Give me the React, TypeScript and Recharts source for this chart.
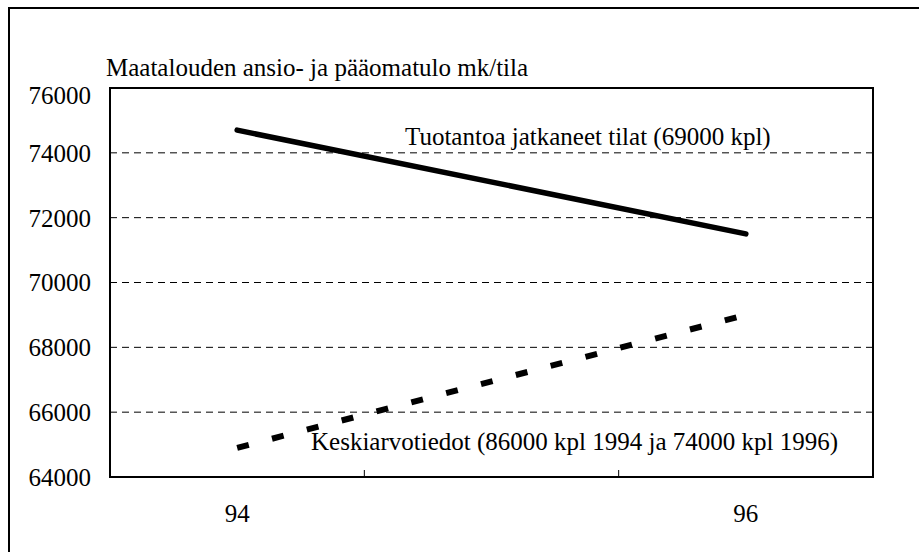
import React from "react";
import { CartesianGrid, Line, LineChart, ReferenceArea, XAxis, YAxis } from "recharts";

const years = [94, 96];
const continuedFarms = [74700, 71500];
const averageFarms = [64900, 69000];
const yTicks = [64000, 66000, 68000, 70000, 72000, 74000, 76000];
const xLabelTicks = [94, 96];
const categoryBounds = [94.5, 95.5];
const xTicks = [...xLabelTicks, ...categoryBounds].sort((a, b) => a - b);

const data = years.map((year, i) => ({
  year,
  continued: continuedFarms[i],
  average: averageFarms[i],
}));

const FONT = "Liberation Serif, Tinos, Times New Roman, DejaVu Serif, serif";
const textStyle = { fontFamily: FONT, fontSize: 25 };
const LABEL_GAP = 27;

// top label sits a bit lower than its grid line, like in the original
function YTick(props: any) {
  const { x, y, payload } = props;
  const shift = payload.value === 76000 ? 7 : 0;
  return (
    <text x={x} y={y + shift} dy="0.355em" textAnchor="end" fill="#000" style={textStyle}>
      {payload.value}
    </text>
  );
}

// year labels under the category centres, small inside marks at category bounds
function XTick(props: any) {
  const { x, y, payload } = props;
  if (categoryBounds.includes(payload.value)) {
    const axisY = y - LABEL_GAP;
    return <line x1={x} x2={x} y1={axisY} y2={axisY - 7} stroke="#000" strokeWidth={1} />;
  }
  return (
    <text x={x} y={y} dy="0.71em" textAnchor="middle" fill="#000" style={textStyle}>
      {payload.value}
    </text>
  );
}

export default function App() {
  return (
    <div style={{ position: "fixed", left: 0, top: 0, width: 919, height: 552, overflow: "hidden", background: "#fff" }}>
      <div
        style={{
          position: "absolute",
          left: 8,
          top: 7,
          width: 1000,
          height: 1000,
          border: "2px solid #000",
          boxSizing: "border-box",
        }}
      />
      <div style={{ position: "absolute", left: 0, top: 0 }}>
        <LineChart width={919} height={552} data={data} margin={{ top: 88, right: 46, bottom: 0, left: 0 }}>
          <CartesianGrid vertical={false} stroke="#000" strokeWidth={1} strokeDasharray="7 5" />
          <XAxis
            dataKey="year"
            type="number"
            domain={[93.5, 96.5]}
            ticks={xTicks}
            interval={0}
            height={75}
            tickLine={false}
            tickSize={0}
            tickMargin={LABEL_GAP}
            axisLine={{ stroke: "#000", strokeWidth: 2 }}
            tick={<XTick />}
          />
          <YAxis
            domain={[64000, 76000]}
            ticks={yTicks}
            interval={0}
            width={110}
            tickLine={false}
            tickSize={0}
            tickMargin={19}
            axisLine={{ stroke: "#000", strokeWidth: 2 }}
            tick={<YTick />}
          />
          <ReferenceArea
            x1={93.5}
            x2={96.5}
            y1={64000}
            y2={76000}
            fill="none"
            stroke="#000"
            strokeWidth={2}
            ifOverflow="visible"
          />
          <Line
            dataKey="continued"
            stroke="#000"
            strokeWidth={5.5}
            strokeLinecap="round"
            dot={false}
            isAnimationActive={false}
          />
          <Line
            dataKey="average"
            stroke="#000"
            strokeWidth={6}
            strokeDasharray="12 24"
            dot={false}
            isAnimationActive={false}
          />
        </LineChart>
      </div>
      <svg width={919} height={552} style={{ position: "absolute", left: 0, top: 0, pointerEvents: "none" }}>
        <g fill="#000" style={textStyle}>
          <text x={106} y={76}>Maatalouden ansio- ja pääomatulo mk/tila</text>
          <text x={405} y={145}>Tuotantoa jatkaneet tilat (69000 kpl)</text>
          <text x={311} y={450}>Keskiarvotiedot (86000 kpl 1994 ja 74000 kpl 1996)</text>
        </g>
      </svg>
    </div>
  );
}
